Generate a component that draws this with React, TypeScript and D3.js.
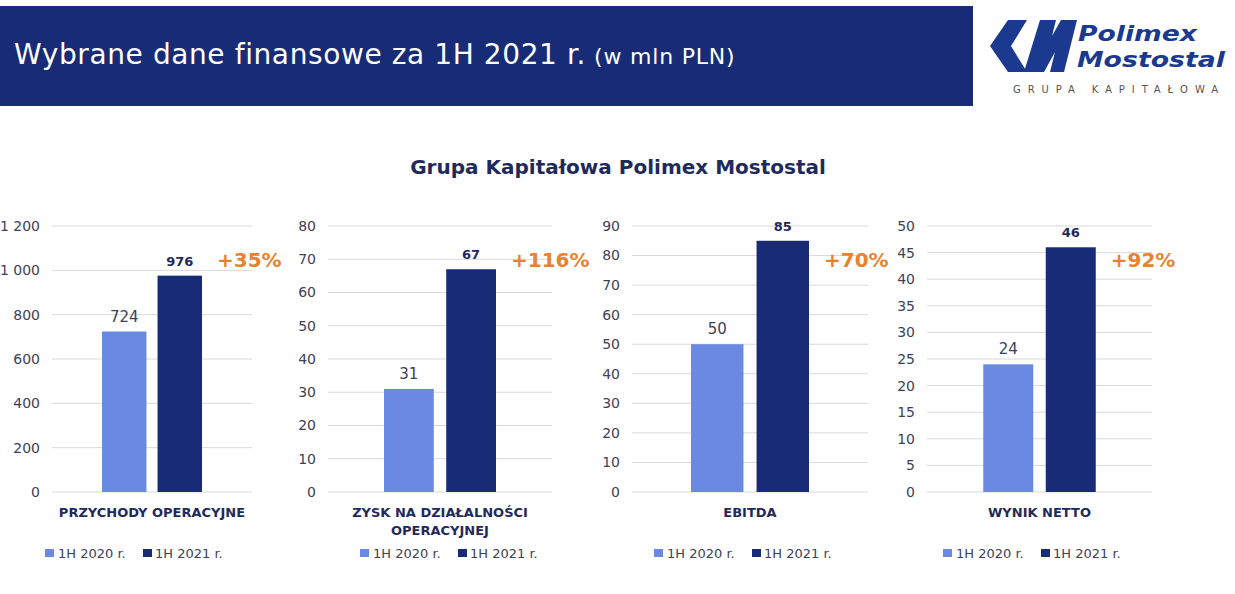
import * as d3 from 'd3'

// chart data
const categories = ['PRZYCHODY OPERACYJNE', 'ZYSK NA DZIAŁALNOŚCI|OPERACYJNEJ', 'EBITDA', 'WYNIK NETTO']
const series = ['1H 2020 r.', '1H 2021 r.']
const values2020 = [724, 31, 50, 24]
const values2021 = [976, 67, 85, 46]
const changes = ['+35%', '+116%', '+70%', '+92%']
const axisMax = [1200, 80, 90, 50]
const axisStep = [200, 10, 10, 5]

// layout of the four small charts
const plotLeft = [52, 328, 632, 927]
const plotRight = [252, 552, 868, 1152]
const legendCenter = [133, 448, 742, 1031]
const plotTop = 226
const plotBottom = 492

const LIGHT = '#6a8ae2'
const DARK = '#172b77'
const ORANGE = '#e8822e'
const TEXT = '#3d4158'
const NAVY = '#1f2a5c'
const LOGO = '#1b3a8f'
const FONT = '"DejaVu Sans", sans-serif'

const fmt = d3.formatLocale({ decimal: ',', thousands: ' ', grouping: [3], currency: ['', ''] }).format(',')

const Panel = ({ i }: { i: number }) => {
    const left = plotLeft[i]
    const right = plotRight[i]
    const w = right - left

    const y = d3.scaleLinear().domain([0, axisMax[i]]).range([plotBottom, plotTop])
    const x = d3
        .scaleBand()
        .domain(series)
        .range([left + w * 0.25, right - w * 0.25])
        .paddingInner(0.2)

    const ticks = d3.range(0, axisMax[i] + axisStep[i] / 2, axisStep[i])
    const vals = [values2020[i], values2021[i]]
    const lines = categories[i].split('|')
    const cx = (left + right) / 2
    const lc = legendCenter[i]

    return (
        <g>
            {ticks.map(t => (
                <g key={t}>
                    <line x1={left} x2={right} y1={y(t)} y2={y(t)} stroke="#d9d9d9" strokeWidth={1} />
                    <text x={left - 12} y={y(t)} dy="0.35em" textAnchor="end" fontSize={14} fill={TEXT}>
                        {fmt(t)}
                    </text>
                </g>
            ))}

            {series.map((s, j) => (
                <rect
                    key={s}
                    x={x(s)}
                    y={y(vals[j])}
                    width={x.bandwidth()}
                    height={plotBottom - y(vals[j])}
                    fill={j === 0 ? LIGHT : DARK}
                />
            ))}

            {series.map((s, j) => (
                <text
                    key={s}
                    x={(x(s) as number) + x.bandwidth() / 2}
                    y={y(vals[j]) - 10}
                    textAnchor="middle"
                    fontSize={j === 0 ? 15 : 13}
                    fontWeight={j === 0 ? 'normal' : 'bold'}
                    fill={j === 0 ? TEXT : NAVY}
                >
                    {vals[j]}
                </text>
            ))}

            <text
                x={(x(series[1]) as number) + x.bandwidth() + 15}
                y={267}
                fontSize={20}
                fontWeight="bold"
                fill={ORANGE}
            >
                {changes[i]}
            </text>

            {lines.map((l, k) => (
                <text key={k} x={cx} y={517 + k * 18} textAnchor="middle" fontSize={13} fontWeight="bold" fill={NAVY}>
                    {l}
                </text>
            ))}

            {/* legend */}
            <rect x={lc - 88} y={549} width={9} height={8} fill={LIGHT} />
            <text x={lc - 75} y={558} fontSize={13} fill={TEXT}>
                {series[0]}
            </text>
            <rect x={lc + 10} y={549} width={9} height={8} fill={DARK} />
            <text x={lc + 22} y={558} fontSize={13} fill={TEXT}>
                {series[1]}
            </text>
        </g>
    )
}

const Logo = () => (
    <g>
        <polygon points="1008,20 1027,20 1011,46 1027,72 1008,72 990,46" fill={LOGO} />
        <polygon points="1024,72 1040,20 1056,20 1052,36 1061,20 1077,20 1064,72 1050,72 1055,52 1044,72" fill={LOGO} />
        <text x={1078} y={41} fontSize={22} fontWeight="bold" fontStyle="italic" fill={LOGO} textLength={119} lengthAdjust="spacingAndGlyphs">
            Polimex
        </text>
        <text x={1077} y={67} fontSize={22} fontWeight="bold" fontStyle="italic" fill={LOGO} textLength={148} lengthAdjust="spacingAndGlyphs">
            Mostostal
        </text>
        <text x={1013} y={93} fontSize={10} fill="#555" letterSpacing={6.9}>
            GRUPA KAPITAŁOWA
        </text>
    </g>
)

export default function App() {
    return (
        <svg
            width={1235}
            height={594}
            style={{ position: 'absolute', left: 0, top: 0, background: '#fff' }}
            fontFamily={FONT}
        >
            <rect x={0} y={6} width={973} height={100} fill={DARK} />
            <text x={14} y={64} fill="#fff" fontSize={28} letterSpacing={0.6}>
                Wybrane dane finansowe za 1H 2021 r.
                <tspan fontSize={22} dx={8} letterSpacing={0.8}>
                    (w mln PLN)
                </tspan>
            </text>
            <Logo />

            <text x={618} y={174} textAnchor="middle" fontSize={20} fontWeight="bold" fill={NAVY}>
                Grupa Kapitałowa Polimex Mostostal
            </text>

            {categories.map((c, i) => (
                <Panel key={c} i={i} />
            ))}
        </svg>
    )
}
